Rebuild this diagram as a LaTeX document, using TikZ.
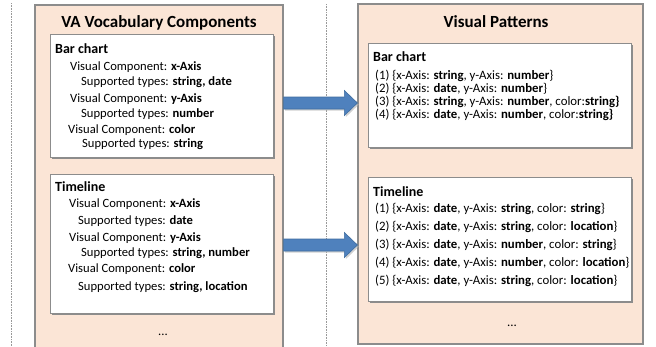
\documentclass[tikz,border=0pt]{standalone}
\usepackage{fontspec}
\setmainfont{Carlito}
\usetikzlibrary{shadows,calc}

\definecolor{peach}{HTML}{FBE5D6}
\definecolor{framegray}{HTML}{8C8C8C}
\definecolor{arrowblue}{HTML}{4F81BD}
\definecolor{arrowedge}{HTML}{3F6D9F}

\tikzset{
  outerbox/.style={draw=framegray, fill=peach, line width=1.2pt, inner sep=0pt},
  innerbox/.style={draw=framegray, fill=white, line width=1pt, inner sep=0pt,
    drop shadow={shadow xshift=2pt, shadow yshift=-2pt, fill=black!45, opacity=1}},
  title/.style={font=\fontsize{17}{20}\selectfont\bfseries, inner sep=0pt},
  header/.style={font=\fontsize{14}{16}\selectfont\bfseries, anchor=west, inner sep=0pt},
  line/.style={font=\fontsize{12.6}{15}\selectfont, anchor=west, inner sep=0pt},
  pline/.style={font=\fontsize{12.8}{15}\selectfont, anchor=west, inner sep=0pt},
  bigarrow/.style={draw=arrowedge, fill=arrowblue, line width=0.6pt, line join=miter,
    drop shadow={shadow xshift=1.5pt, shadow yshift=-1.5pt, fill=black!30, opacity=0.6}},
  sep/.style={draw=black!40, line width=0.8pt, dash pattern=on 0.8pt off 0.8pt}
}

\begin{document}
\begin{tikzpicture}[x=1pt,y=-1pt]

\path[use as bounding box, clip] (0,0) rectangle (656,346);

% dotted separators
\draw[sep] (11,3) -- (11,346);
\draw[sep] (326,4) -- (326,346);

% outer boxes
\node[outerbox, minimum width=248pt, minimum height=355pt] (voc) at (159,182.5) {};
\node[outerbox, minimum width=285pt, minimum height=340pt] (pat) at (500.5,174) {};

\node[title] (voctitle) at (159,23) {VA Vocabulary Components};
\node[title] (pattitle) at (496,22) {Visual Patterns};

% vocabulary: bar chart
\node[innerbox, minimum width=223pt, minimum height=123pt] (vocbar) at (161.5,95.5) {};
\node[header] (vbh) at (55,49) {Bar chart};
\node[line] (vb1) at (70,67) {Visual Component: \textbf{x-Axis}};
\node[line] (vb2) at (81,82) {Supported types: \textbf{string, date}};
\node[line] (vb3) at (70,99) {Visual Component: \textbf{y-Axis}};
\node[line] (vb4) at (81,114) {Supported types: \textbf{number}};
\node[line] (vb5) at (68,130) {Visual Component: \textbf{color}};
\node[line] (vb6) at (82,144) {Supported types: \textbf{string}};

% vocabulary: timeline
\node[innerbox, minimum width=223pt, minimum height=139pt] (voctime) at (161.5,243.5) {};
\node[header] (vth) at (55,187) {Timeline};
\node[line] (vt1) at (69,204) {Visual Component: \textbf{x-Axis}};
\node[line] (vt2) at (78,221) {Supported types: \textbf{date}};
\node[line] (vt3) at (69,238) {Visual Component: \textbf{y-Axis}};
\node[line] (vt4) at (81,253) {Supported types: \textbf{string, number}};
\node[line] (vt5) at (68,269) {Visual Component: \textbf{color}};
\node[line] (vt6) at (78,287) {Supported types: \textbf{string, location}};

\node[line, anchor=center] (vocdots) at (163,335) {...};

% patterns: bar chart
\node[innerbox, minimum width=263pt, minimum height=104pt] (patbar) at (499.5,95) {};
\node[header] (pbh) at (373,57) {Bar chart};
\node[pline] (pb1) at (375,76) {(1) \{x-Axis: \textbf{string}, y-Axis: \textbf{number}\}};
\node[pline] (pb2) at (375,89) {(2) \{x-Axis: \textbf{date}, y-Axis: \textbf{number}\}};
\node[pline] (pb3) at (375,102) {(3) \{x-Axis: \textbf{string}, y-Axis: \textbf{number}, color:\textbf{string\}}};
\node[pline] (pb4) at (375,115) {(4) \{x-Axis: \textbf{date}, y-Axis: \textbf{number}, color:\textbf{string\}}};

% patterns: timeline
\node[innerbox, minimum width=263pt, minimum height=124pt] (pattime) at (499.5,239) {};
\node[header] (pth) at (373,192) {Timeline};
\node[pline] (pt1) at (375,209) {(1) \{x-Axis: \textbf{date}, y-Axis: \textbf{string}, color: \textbf{string}\}};
\node[pline] (pt2) at (375,227) {(2) \{x-Axis: \textbf{date}, y-Axis: \textbf{string}, color: \textbf{location}\}};
\node[pline] (pt3) at (375,245) {(3) \{x-Axis: \textbf{date}, y-Axis: \textbf{number}, color: \textbf{string}\}};
\node[pline] (pt4) at (375,263) {(4) \{x-Axis: \textbf{date}, y-Axis: \textbf{number}, color: \textbf{location}\}};
\node[pline] (pt5) at (375,281) {(5) \{x-Axis: \textbf{date}, y-Axis: \textbf{string}, color: \textbf{location}\}};

\node[pline, anchor=center] (patdots) at (512,326) {...};

% arrows
\coordinate (barlevel) at (0,103);
\coordinate (timelevel) at (0,245);
\coordinate (bs) at (voc.east |- barlevel);
\coordinate (bt) at (pat.west |- barlevel);
\coordinate (ts) at (voc.east |- timelevel);
\coordinate (tt) at (pat.west |- timelevel);
\draw[bigarrow] ($(bs)+(0,-6)$) -- ($(bt)+(-13,-6)$) -- ($(bt)+(-13,-12.5)$) -- (bt)
  -- ($(bt)+(-13,12.5)$) -- ($(bt)+(-13,6)$) -- ($(bs)+(0,6)$) -- cycle;
\draw[bigarrow] ($(ts)+(0,-6)$) -- ($(tt)+(-13,-6)$) -- ($(tt)+(-13,-12.5)$) -- (tt)
  -- ($(tt)+(-13,12.5)$) -- ($(tt)+(-13,6)$) -- ($(ts)+(0,6)$) -- cycle;

\end{tikzpicture}
\end{document}
